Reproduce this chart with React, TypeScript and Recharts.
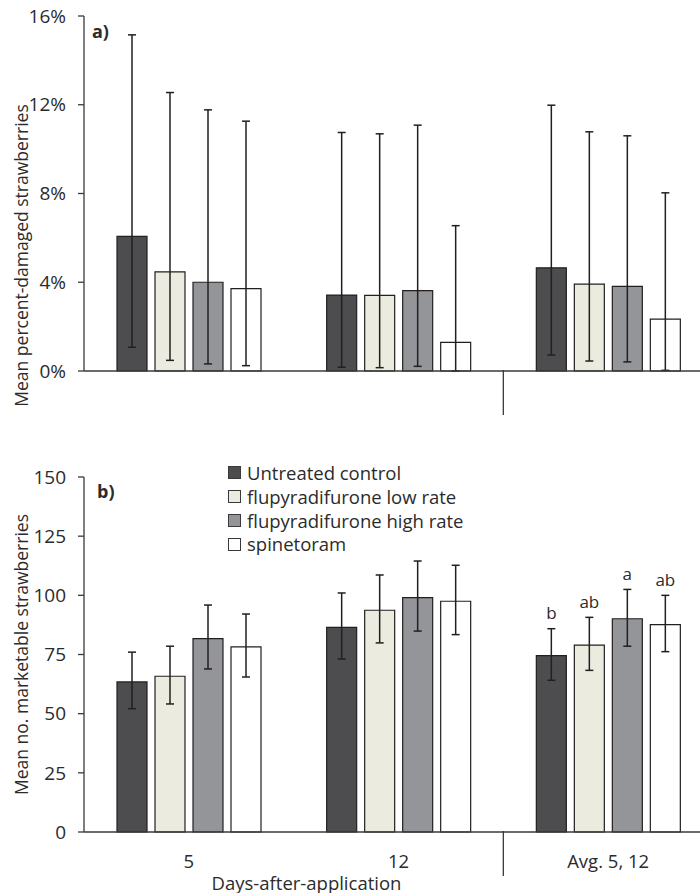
import { BarChart, Bar, XAxis, YAxis, ErrorBar, LabelList, Legend } from 'recharts';

const DAYS = ['5', '12', 'Avg. 5, 12'];
const SERIES = ['Untreated control', 'flupyradifurone low rate', 'flupyradifurone high rate', 'spinetoram'];
const COLORS = ['#4d4d4f', '#ebebdf', '#939598', '#ffffff'];

// a) mean percent-damaged strawberries, with error bar ends (lower / upper)
const damageMean = [
  [6.07, 3.42, 4.65],
  [4.47, 3.41, 3.92],
  [4.0, 3.62, 3.81],
  [3.71, 1.29, 2.34],
];
const damageLow = [
  [1.07, 0.17, 0.72],
  [0.48, 0.15, 0.45],
  [0.32, 0.21, 0.41],
  [0.24, 0.0, 0.03],
];
const damageHigh = [
  [15.15, 10.75, 11.98],
  [12.55, 10.69, 10.78],
  [11.77, 11.08, 10.6],
  [11.26, 6.55, 8.03],
];
const damageTicks = [0, 4, 8, 12, 16];

// b) mean number of marketable strawberries
const marketMean = [
  [63.4, 86.5, 74.5],
  [65.8, 93.7, 79.0],
  [81.7, 99.0, 90.1],
  [78.2, 97.5, 87.6],
];
const marketLow = [
  [52.1, 73.1, 64.1],
  [54.1, 79.9, 68.3],
  [68.9, 84.9, 78.5],
  [65.5, 83.4, 76.2],
];
const marketHigh = [
  [76.0, 101.0, 85.9],
  [78.5, 108.6, 90.7],
  [95.9, 114.5, 102.5],
  [92.1, 112.7, 100.0],
];
const marketTicks = [0, 25, 50, 75, 100, 125, 150];
const marketLetters = [
  ['', '', 'b'],
  ['', '', 'ab'],
  ['', '', 'a'],
  ['', '', 'ab'],
];

const FONT = '"Open Sans", sans-serif';
const TEXT = '#2b2b2b';
const LINE = '#3a3a3a';
const CHART_W = 713;
const AXIS_W = 84;
const BAND = (CHART_W - AXIS_W) / DAYS.length;

function buildRows(mean: number[][], low: number[][], high: number[][]) {
  return DAYS.map((day, i) => {
    const row: Record<string, any> = { day };
    SERIES.forEach((_, s) => {
      row[`s${s}`] = mean[s][i];
      row[`e${s}`] = [mean[s][i] - low[s][i], high[s][i] - mean[s][i]];
    });
    return row;
  });
}

const damageRows = buildRows(damageMean, damageLow, damageHigh);
const marketRows = buildRows(marketMean, marketLow, marketHigh);

function makeTick(showText: boolean) {
  return (props: any) => {
    const { x, y, payload, index } = props;
    const sepX = x - BAND / 2;
    return (
      <g>
        {showText && (
          <text x={x} y={y + 28} textAnchor="middle" dominantBaseline="central"
            fontFamily={FONT} fontSize={18.5} fill={TEXT}>
            {payload.value}
          </text>
        )}
        {index === 2 && <line x1={sepX} x2={sepX} y1={y - 1} y2={y + 44} stroke={LINE} strokeWidth={1.3} />}
      </g>
    );
  };
}

function makeYLabel(text: string, shift: number) {
  return (props: any) => {
    const vb = props.viewBox || {};
    const cx = 21;
    const cy = vb.y + vb.height / 2 + shift;
    return (
      <text x={cx} y={cy} transform={`rotate(-90, ${cx}, ${cy})`} textAnchor="middle"
        dominantBaseline="central" fontFamily={FONT} fontSize={17.5} fill={TEXT}>
        {text}
      </text>
    );
  };
}

function xLabel(props: any) {
  const vb = props.viewBox || {};
  // title sits left of the plot centre, as in the source figure
  const cx = vb.x + vb.width / 2 - 92;
  return (
    <text x={cx} y={vb.y + 50} textAnchor="middle" dominantBaseline="central"
      fontFamily={FONT} fontSize={18.5} fill={TEXT}>
      Days-after-application
    </text>
  );
}

function makeLetter(s: number) {
  return (props: any) => {
    const { x, y, width, height, index } = props;
    const letter = marketLetters[s][index];
    if (!letter) return null;
    const base = y + height;
    const perUnit = height / marketMean[s][index];
    const top = base - marketHigh[s][index] * perUnit;
    return (
      <text x={x + width / 2} y={top - 16} textAnchor="middle" dominantBaseline="central"
        fontFamily={FONT} fontSize={17} fill={TEXT}>
        {letter}
      </text>
    );
  };
}

function LegendBox(props: any) {
  const items = [...(props.payload || [])].sort(
    (a: any, b: any) => SERIES.indexOf(a.value) - SERIES.indexOf(b.value),
  );
  return (
    <div style={{ fontFamily: FONT, fontSize: 18.5, color: TEXT, lineHeight: '23.8px', whiteSpace: 'nowrap' }}>
      {items.map((it: any, i: number) => (
        <div key={i} style={{ display: 'flex', alignItems: 'center', height: 23.8 }}>
          <span style={{
            display: 'inline-block', width: 11, height: 11, background: it.color,
            border: `1px solid ${LINE}`, marginRight: 6,
          }} />
          <span>{it.value}</span>
        </div>
      ))}
    </div>
  );
}

const tickStyle = { fontFamily: FONT, fontSize: 19, fill: TEXT };

export default function App() {
  return (
    <div style={{ position: 'absolute', left: 0, top: 0, width: 700, height: 893, overflow: 'hidden', background: '#fff' }}>
      <div style={{ position: 'absolute', left: 0, top: 0 }}>
        <BarChart width={CHART_W} height={421} data={damageRows} barSize={30} barGap={8}
          margin={{ top: 16, right: 0, bottom: 0, left: 0 }}>
          <XAxis dataKey="day" height={50} interval={0} tickSize={0} tickMargin={0}
            tickLine={false} axisLine={{ stroke: LINE, strokeWidth: 1.3 }} tick={makeTick(false)} />
          <YAxis width={AXIS_W} domain={[0, 16]} ticks={damageTicks} interval={0}
            tickFormatter={(v) => `${v}%`} tick={tickStyle} tickSize={6} tickMargin={12}
            tickLine={{ stroke: LINE, strokeWidth: 1.3 }} axisLine={{ stroke: LINE, strokeWidth: 1.3 }}
            label={makeYLabel('Mean percent-damaged strawberries', 62)} />
          {SERIES.map((name, s) => (
            <Bar key={name} dataKey={`s${s}`} name={name} fill={COLORS[s]} stroke="#231f20"
              strokeWidth={1.2} isAnimationActive={false}>
              <ErrorBar dataKey={`e${s}`} width={4} stroke="#231f20" strokeWidth={1.5} direction="y" />
            </Bar>
          ))}
        </BarChart>
      </div>
      <div style={{ position: 'absolute', left: 92, top: 19, fontFamily: FONT, fontWeight: 700, fontSize: 18, color: TEXT }}>a)</div>

      <div style={{ position: 'absolute', left: 0, top: 420 }}>
        <BarChart width={CHART_W} height={473} data={marketRows} barSize={30} barGap={8}
          margin={{ top: 57, right: 0, bottom: 0, left: 0 }}>
          <XAxis dataKey="day" height={61} interval={0} tickSize={0} tickMargin={0}
            tickLine={false} axisLine={{ stroke: LINE, strokeWidth: 1.3 }} tick={makeTick(true)}
            label={xLabel} />
          <YAxis width={AXIS_W} domain={[0, 150]} ticks={marketTicks} interval={0}
            tick={tickStyle} tickSize={6} tickMargin={12}
            tickLine={{ stroke: LINE, strokeWidth: 1.3 }} axisLine={{ stroke: LINE, strokeWidth: 1.3 }}
            label={makeYLabel('Mean no. marketable strawberries', 0)} />
          <Legend layout="vertical" align="center" verticalAlign="middle" content={<LegendBox />}
            wrapperStyle={{ left: 228, top: 41, width: 'auto' }} />
          {SERIES.map((name, s) => (
            <Bar key={name} dataKey={`s${s}`} name={name} fill={COLORS[s]} stroke="#231f20"
              strokeWidth={1.2} isAnimationActive={false}>
              <ErrorBar dataKey={`e${s}`} width={4} stroke="#231f20" strokeWidth={1.5} direction="y" />
              <LabelList dataKey={`s${s}`} content={makeLetter(s)} />
            </Bar>
          ))}
        </BarChart>
      </div>
      <div style={{ position: 'absolute', left: 97, top: 479, fontFamily: FONT, fontWeight: 700, fontSize: 18, color: TEXT }}>b)</div>
    </div>
  );
}
